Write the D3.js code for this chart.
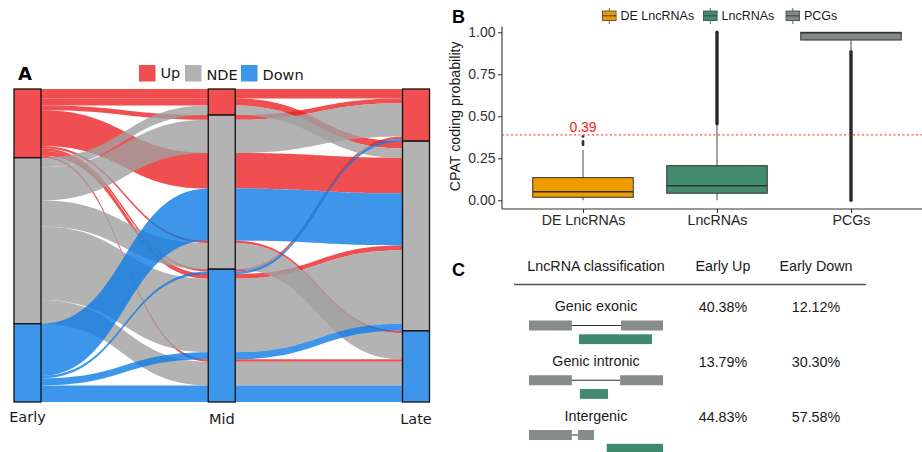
<!DOCTYPE html>
<html lang="en">
<head>
    <meta charset="UTF-8">
    <title>lncRNA figure</title>
    <style>
        html,
        body {
            margin: 0;
            height: 100%;
            overflow: hidden;
            background: #fff;
        }
    </style>
    <script src="https://d3js.org/d3.v7.min.js"></script>
</head>
<body>
    <svg id="svg"></svg>
    <script>
        const width = 922;
        const height = 452;
        const svg = d3.select('#svg').attr('width', width).attr('height', height);

        // ---- panel A data: one alluvium per Early/Mid/Late status combination
        const stageNames = ['Early', 'Mid', 'Late'];
        const statusLevels = ['Up', 'NDE', 'Down'];
        const earlyStatus = ['Up', 'Up', 'Up', 'Up', 'Up', 'Up', 'Up', 'Up', 'NDE', 'NDE', 'NDE', 'NDE', 'NDE', 'Down', 'Down', 'Down', 'Down'];
        const midStatus = ['Up', 'Up', 'NDE', 'NDE', 'NDE', 'Down', 'Down', 'Down', 'Up', 'NDE', 'NDE', 'Down', 'Down', 'NDE', 'Down', 'Down', 'Down'];
        const lateStatus = ['Up', 'NDE', 'Up', 'NDE', 'Down', 'Up', 'NDE', 'Down', 'NDE', 'Up', 'Down', 'NDE', 'Down', 'NDE', 'Up', 'NDE', 'Down'];
        const geneCounts = [4, 3, 2, 15, 1, 1, 2, 1, 4, 14, 11, 31, 10, 22, 1, 3, 7];

        // ---- panel B data: CPAT coding probability boxplots
        const boxCategories = ['DE LncRNAs', 'LncRNAs', 'PCGs'];
        const boxQ1 = [0.018, 0.042, 0.954];
        const boxMedian = [0.051, 0.087, 0.998];
        const boxQ3 = [0.135, 0.206, 1.0];
        const whiskerLow = [0.0, 0.0, 0.885];
        const whiskerHigh = [0.30, 0.448, 1.0];
        const deOutliers = [0.33, 0.34, 0.35, 0.38];
        const denseOutliers = [null, [0.455, 1.0], [0.0, 0.885]]; // packed outlier columns
        const cutoff = 0.39;
        const yTicks = [0, 0.25, 0.5, 0.75, 1];

        // ---- panel C data
        const classNames = ['Genic exonic', 'Genic intronic', 'Intergenic'];
        const earlyUpPct = ['40.38%', '13.79%', '44.83%'];
        const earlyDownPct = ['12.12%', '30.30%', '57.58%'];

        const statusColor = d3.scaleOrdinal().domain(statusLevels).range(['#F04E50', '#B3B3B3', '#3D96EA']);
        const flowColor = d3.scaleOrdinal().domain(statusLevels).range(['#EC2326', '#A0A0A0', '#0D7CE5']);
        const boxColor = d3.scaleOrdinal().domain(boxCategories).range(['#EE9C00', '#418B6F', '#7F8985']);

        // ================= A: alluvial =================
        const gA = svg.append('g').attr('font-family', 'DejaVu Sans');
        const total = d3.sum(geneCounts);
        const yA = d3.scaleLinear().domain([0, total]).range([89, 402]);
        const xA = d3.scalePoint().domain(stageNames).range([27.5, 416]);
        const boxW = 27;
        const rank = s => statusLevels.indexOf(s);

        const alluvia = geneCounts.map((n, i) => ({
            id: i, n, s: [earlyStatus[i], midStatus[i], lateStatus[i]], y0: [], y1: []
        }));
        // lode ordering at each axis (zigzag guidance)
        const guide = [[0, 1, 2], [1, 2, 0], [2, 1, 0]];
        guide.forEach((keys, k) => {
            const sorted = alluvia.slice().sort((a, b) => {
                for (const j of keys) {
                    const d = rank(a.s[j]) - rank(b.s[j]);
                    if (d) return d;
                }
                return a.id - b.id;
            });
            let c = 0;
            sorted.forEach(a => { a.y0[k] = c; c += a.n; a.y1[k] = c; });
        });

        function ribbon(a) {
            const p = d3.path();
            const L = k => xA(stageNames[k]) - boxW / 2;
            const R = k => xA(stageNames[k]) + boxW / 2;
            p.moveTo(L(0), yA(a.y0[0]));
            p.lineTo(R(0), yA(a.y0[0]));
            for (let k = 1; k < 3; k++) {
                const xm = (R(k - 1) + L(k)) / 2;
                p.bezierCurveTo(xm, yA(a.y0[k - 1]), xm, yA(a.y0[k]), L(k), yA(a.y0[k]));
                p.lineTo(R(k), yA(a.y0[k]));
            }
            p.lineTo(R(2), yA(a.y1[2]));
            p.lineTo(L(2), yA(a.y1[2]));
            for (let k = 2; k > 0; k--) {
                const xm = (R(k - 1) + L(k)) / 2;
                p.bezierCurveTo(xm, yA(a.y1[k]), xm, yA(a.y1[k - 1]), R(k - 1), yA(a.y1[k - 1]));
                p.lineTo(L(k - 1), yA(a.y1[k - 1]));
            }
            p.closePath();
            return p.toString();
        }

        const drawOrder = alluvia.slice().sort((a, b) => rank(a.s[0]) - rank(b.s[0]) || a.id - b.id);
        gA.selectAll('.flow').data(drawOrder).join('path').attr('class', 'flow')
            .attr('d', ribbon)
            .attr('fill', d => flowColor(d.s[0]))
            .attr('fill-opacity', 0.8);

        // strata
        const strata = [];
        stageNames.forEach((st, k) => {
            let c = 0;
            statusLevels.forEach(lv => {
                const n = d3.sum(alluvia.filter(a => a.s[k] === lv), a => a.n);
                strata.push({ stage: st, status: lv, y0: c, y1: c + n });
                c += n;
            });
        });
        gA.selectAll('.stratum').data(strata).join('rect').attr('class', 'stratum')
            .attr('x', d => xA(d.stage) - boxW / 2)
            .attr('y', d => yA(d.y0))
            .attr('width', boxW)
            .attr('height', d => yA(d.y1) - yA(d.y0))
            .attr('fill', d => statusColor(d.status))
            .attr('stroke', '#111')
            .attr('stroke-width', 1.3);

        const stageLabelY = [421.5, 424, 423.5];
        gA.selectAll('.stage').data(stageNames).join('text').attr('class', 'stage')
            .attr('x', d => xA(d))
            .attr('y', (d, i) => stageLabelY[i])
            .attr('text-anchor', 'middle')
            .attr('font-size', 14.5)
            .attr('fill', '#1a1a1a')
            .text(d => d);

        gA.append('text').attr('x', 18).attr('y', 80).attr('font-size', 18).attr('font-weight', 'bold').text('A');

        const legX = [139, 185, 241];
        const legTextY = [77.5, 79.5, 79.5];
        const legA = gA.selectAll('.legA').data(statusLevels).join('g').attr('class', 'legA');
        legA.append('rect')
            .attr('x', (d, i) => legX[i]).attr('y', 65)
            .attr('width', 16.5).attr('height', 16.5)
            .attr('fill', d => statusColor(d));
        legA.append('text')
            .attr('x', (d, i) => legX[i] + 21.5).attr('y', (d, i) => legTextY[i])
            .attr('font-size', 14.5).attr('fill', '#1a1a1a')
            .text(d => d);

        // ================= B: boxplots =================
        const gB = svg.append('g').attr('font-family', 'Liberation Sans, Arial, sans-serif');
        const yB = d3.scaleLinear().domain([0, 1]).range([200.3, 32.3]);
        const xB = d3.scaleLinear().domain([0, 2]).range([583, 851]);
        const bw = 100.5;
        const axX = 502, axY = 209;

        gB.append('text').attr('x', 452).attr('y', 22.5).attr('font-size', 18).attr('font-weight', 'bold').text('B');

        const yAxis = d3.axisLeft(yB).tickValues(yTicks).tickFormat(d3.format('.2f')).tickSize(4).tickPadding(2.5);
        const yg = gB.append('g').attr('transform', `translate(${axX},0)`).call(yAxis);
        yg.select('.domain').remove();
        yg.selectAll('text').attr('font-size', 14).attr('fill', '#333').attr('font-family', 'Liberation Sans, Arial, sans-serif');
        yg.selectAll('line').attr('stroke', '#333');
        gB.append('line').attr('x1', axX).attr('x2', axX).attr('y1', 26.5).attr('y2', axY)
            .attr('stroke', '#333').attr('stroke-width', 1.1);

        const xAxis = d3.axisBottom(xB).tickValues([0, 1, 2]).tickFormat(i => boxCategories[i]).tickSize(4).tickPadding(2);
        const xg = gB.append('g').attr('transform', `translate(0,${axY})`).call(xAxis);
        xg.select('.domain').remove();
        xg.selectAll('text').attr('font-size', 14.2).attr('fill', '#262626').attr('font-family', 'Liberation Sans, Arial, sans-serif');
        xg.selectAll('line').attr('stroke', '#333');
        gB.append('line').attr('x1', axX).attr('x2', width).attr('y1', axY).attr('y2', axY)
            .attr('stroke', '#333').attr('stroke-width', 1.1);

        gB.append('text')
            .attr('transform', `translate(460,${(yB(0) + yB(1)) / 2}) rotate(-90)`)
            .attr('text-anchor', 'middle').attr('font-size', 14.2).attr('fill', '#1a1a1a')
            .text('CPAT coding probability');

        const boxes = gB.selectAll('.box').data(boxCategories).join('g').attr('class', 'box');
        boxes.append('line')
            .attr('x1', (d, i) => xB(i)).attr('x2', (d, i) => xB(i))
            .attr('y1', (d, i) => yB(whiskerLow[i])).attr('y2', (d, i) => yB(whiskerHigh[i]))
            .attr('stroke', '#333').attr('stroke-width', 0.9);
        boxes.append('rect')
            .attr('x', (d, i) => xB(i) - bw / 2).attr('y', (d, i) => yB(boxQ3[i]))
            .attr('width', bw).attr('height', (d, i) => yB(boxQ1[i]) - yB(boxQ3[i]))
            .attr('fill', d => boxColor(d)).attr('stroke', '#333').attr('stroke-width', 1);
        boxes.append('line')
            .attr('x1', (d, i) => xB(i) - bw / 2).attr('x2', (d, i) => xB(i) + bw / 2)
            .attr('y1', (d, i) => yB(boxMedian[i])).attr('y2', (d, i) => yB(boxMedian[i]))
            .attr('stroke', '#333').attr('stroke-width', 1.5);

        gB.selectAll('.dense').data(denseOutliers.map((r, i) => ({ r, i })).filter(d => d.r)).join('line')
            .attr('class', 'dense')
            .attr('x1', d => xB(d.i)).attr('x2', d => xB(d.i))
            .attr('y1', d => yB(d.r[0])).attr('y2', d => yB(d.r[1]))
            .attr('stroke', '#2a2a2a').attr('stroke-width', 3.4).attr('stroke-linecap', 'round');
        gB.selectAll('.out').data(deOutliers).join('circle').attr('class', 'out')
            .attr('cx', xB(0)).attr('cy', d => yB(d)).attr('r', 1.4).attr('fill', '#333');

        gB.append('line').attr('x1', axX).attr('x2', width).attr('y1', yB(cutoff)).attr('y2', yB(cutoff))
            .attr('stroke', '#FF4D4D').attr('stroke-width', 1.3).attr('stroke-dasharray', '2,2.5');
        gB.append('text').attr('x', xB(0)).attr('y', yB(cutoff) - 2.5)
            .attr('text-anchor', 'middle').attr('font-size', 14).attr('fill', '#F21C1C')
            .text(d3.format('.2f')(cutoff));

        // legend keys
        const keyX = [602.5, 703.5, 786];
        const keys = gB.selectAll('.key').data(boxCategories).join('g').attr('class', 'key')
            .attr('transform', (d, i) => `translate(${keyX[i]},0)`);
        keys.append('line').attr('x1', 6.8).attr('x2', 6.8).attr('y1', 8).attr('y2', 24).attr('stroke', '#444').attr('stroke-width', 0.8);
        keys.append('rect').attr('x', 0).attr('y', 11).attr('width', 13.6).attr('height', 9.6)
            .attr('fill', d => boxColor(d)).attr('stroke', '#444').attr('stroke-width', 0.8);
        keys.append('line').attr('x1', 0).attr('x2', 13.6).attr('y1', 15.8).attr('y2', 15.8).attr('stroke', '#444').attr('stroke-width', 1.1);
        keys.append('text').attr('x', 18).attr('y', 20).attr('font-size', 12.5).attr('fill', '#1a1a1a').text(d => d);

        // ================= C: table =================
        const gC = svg.append('g').attr('font-family', 'Liberation Sans, Arial, sans-serif');
        gC.append('text').attr('x', 452).attr('y', 276).attr('font-size', 18).attr('font-weight', 'bold').text('C');

        const colX = [596, 723, 816];
        const headers = ['LncRNA classification', 'Early Up', 'Early Down'];
        gC.selectAll('.hdr').data(headers).join('text').attr('class', 'hdr')
            .attr('x', (d, i) => colX[i]).attr('y', 271)
            .attr('text-anchor', 'middle').attr('font-size', 14.3).attr('fill', '#1a1a1a')
            .text(d => d);
        gC.append('line').attr('x1', 514).attr('x2', 866).attr('y1', 284.5).attr('y2', 284.5)
            .attr('stroke', '#555').attr('stroke-width', 1.4);

        const rowY = d3.scaleLinear().domain([0, 2]).range([311, 420.5]);
        const rows = gC.selectAll('.row').data(classNames).join('g').attr('class', 'row');
        rows.append('text').attr('x', colX[0]).attr('y', (d, i) => rowY(i))
            .attr('text-anchor', 'middle').attr('font-size', 14.3).attr('fill', '#1a1a1a').text(d => d);
        rows.append('text').attr('x', colX[1]).attr('y', (d, i) => rowY(i) + 1)
            .attr('text-anchor', 'middle').attr('font-size', 14.3).attr('fill', '#1a1a1a').text((d, i) => earlyUpPct[i]);
        rows.append('text').attr('x', colX[2]).attr('y', (d, i) => rowY(i) + 1)
            .attr('text-anchor', 'middle').attr('font-size', 14.3).attr('fill', '#1a1a1a').text((d, i) => earlyDownPct[i]);

        // schematic gene models (relative coordinates within the glyph)
        const glyph = d3.scaleLinear().domain([0, 1]).range([529, 663]);
        const glyphExons = [[[0, 0.32], [0.687, 1]], [[0, 0.32], [0.68, 1]], [[0, 0.32], [0.366, 0.485]]];
        const glyphLnc = [[0.373, 0.918], [0.38, 0.59], [0.58, 1]];
        rows.append('line')
            .attr('x1', glyph(0)).attr('x2', (d, i) => glyph(glyphExons[i][1][0]))
            .attr('y1', (d, i) => rowY(i) + 14.5).attr('y2', (d, i) => rowY(i) + 14.5)
            .attr('stroke', '#333').attr('stroke-width', 1);
        rows.each(function (d, i) {
            d3.select(this).selectAll('.exon').data(glyphExons[i]).join('rect').attr('class', 'exon')
                .attr('x', e => glyph(e[0])).attr('width', e => glyph(e[1]) - glyph(e[0]))
                .attr('y', rowY(i) + 9.5).attr('height', 10)
                .attr('fill', '#858C89');
        });
        rows.append('rect')
            .attr('x', (d, i) => glyph(glyphLnc[i][0]))
            .attr('width', (d, i) => glyph(glyphLnc[i][1]) - glyph(glyphLnc[i][0]))
            .attr('y', (d, i) => rowY(i) + 23.3).attr('height', 9.8)
            .attr('fill', '#3F8A6E');
    </script>
</body>
</html>
